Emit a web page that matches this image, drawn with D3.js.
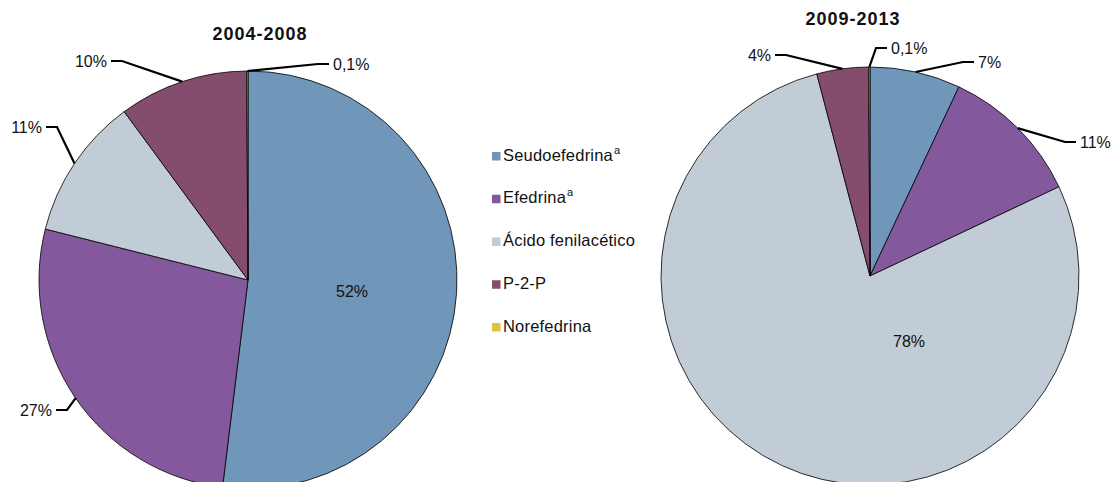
<!DOCTYPE html>
<html>
<head>
<meta charset="utf-8">
<script src="https://cdn.jsdelivr.net/npm/d3@7"></script>
<style>
  body { margin: 0; background: #fff; }
  text { font-family: "Liberation Sans", Arial, sans-serif; fill: #111; }
</style>
</head>
<body>
<svg id="chart" width="1114" height="482"></svg>
<script>
// Data
const categories = ["Seudoefedrina", "Efedrina", "Ácido fenilacético", "P-2-P", "Norefedrina"];
const superscripts = ["a", "a", "", "", ""];
const values2004 = [52, 27, 11, 10, 0.1];
const values2009 = [7, 11, 78, 4, 0.1];
const labels2004 = ["52%", "27%", "11%", "10%", "0,1%"];
const labels2009 = ["7%", "11%", "78%", "4%", "0,1%"];
const colors = ["#7096ba", "#84589c", "#c1ccd6", "#844c6d", "#dcc43e"];

// Label placement for each slice (inside label or text position with leader)
const layout2004 = [
  { inside: true, x: 352, y: 291 },
  { x: 52, y: 410, anchor: "end" },
  { x: 42, y: 127, anchor: "end" },
  { x: 107, y: 61, anchor: "end" },
  { x: 333, y: 64, anchor: "start" }
];
const layout2009 = [
  { x: 978, y: 62, anchor: "start" },
  { x: 1080, y: 142, anchor: "start" },
  { inside: true, x: 909, y: 341 },
  { x: 771, y: 55, anchor: "end" },
  { x: 891, y: 48, anchor: "start" }
];

const svg = d3.select("#chart");
const radius = 209;

function drawPie(values, labels, layout, cx, cy, title, titleX, titleY) {
  const pie = d3.pie().sort(null).value(d => d.value);
  const arcs = pie(values.map((v, i) => ({ value: v, i })));

  const arc = d3.arc().innerRadius(0).outerRadius(radius);
  const edge = d3.arc().innerRadius(radius).outerRadius(radius);

  const g = svg.append("g").attr("transform", `translate(${cx},${cy})`);

  g.selectAll("path.slice")
    .data(arcs)
    .enter()
    .append("path")
    .attr("class", "slice")
    .attr("d", arc)
    .attr("fill", d => colors[d.data.i])
    .attr("stroke", "#000")
    .attr("stroke-width", 0.8);

  // Labels and leader lines
  arcs.forEach(d => {
    const lay = layout[d.data.i];
    if (lay.inside) {
      svg.append("text")
        .attr("x", lay.x)
        .attr("y", lay.y + 5.5)
        .attr("text-anchor", "middle")
        .style("font-size", "16px")
        .text(labels[d.data.i]);
      return;
    }
    const [ex, ey] = edge.centroid(d);
    const dir = lay.anchor === "end" ? 1 : -1;
    const pts = [
      [cx + ex, cy + ey],
      [lay.x + dir * 15, lay.y],
      [lay.x + dir * 4, lay.y]
    ];
    svg.append("path")
      .attr("d", d3.line()(pts))
      .attr("fill", "none")
      .attr("stroke", "#000")
      .attr("stroke-width", 2.2);
    svg.append("text")
      .attr("x", lay.x)
      .attr("y", lay.y + 5.5)
      .attr("text-anchor", lay.anchor)
      .style("font-size", "16px")
      .text(labels[d.data.i]);
  });

  svg.append("text")
    .attr("x", titleX)
    .attr("y", titleY)
    .attr("text-anchor", "middle")
    .style("font-size", "18px")
    .style("font-weight", "bold")
    .style("letter-spacing", "1px")
    .text(title);
}

drawPie(values2004, labels2004, layout2004, 248, 280, "2004-2008", 260, 40);
drawPie(values2009, labels2009, layout2009, 870, 276, "2009-2013", 853, 25);

// Legend
const legendY = d3.scalePoint()
  .domain(categories)
  .range([160.5, 331.5]);

const legend = svg.append("g").attr("class", "legend");
const items = legend.selectAll("g.item")
  .data(categories)
  .enter()
  .append("g")
  .attr("class", "item")
  .attr("transform", d => `translate(0,${legendY(d)})`);

items.append("rect")
  .attr("x", 492)
  .attr("y", -8.5)
  .attr("width", 8.5)
  .attr("height", 8.5)
  .attr("fill", (d, i) => colors[i]);

const lt = items.append("text")
  .attr("x", 503)
  .attr("y", 0)
  .style("font-size", "16.5px")
  .style("letter-spacing", "0.2px");
lt.append("tspan").text(d => d);
lt.append("tspan")
  .attr("dx", 1)
  .attr("dy", -7)
  .style("font-size", "11px")
  .text((d, i) => superscripts[i]);
</script>
</body>
</html>
